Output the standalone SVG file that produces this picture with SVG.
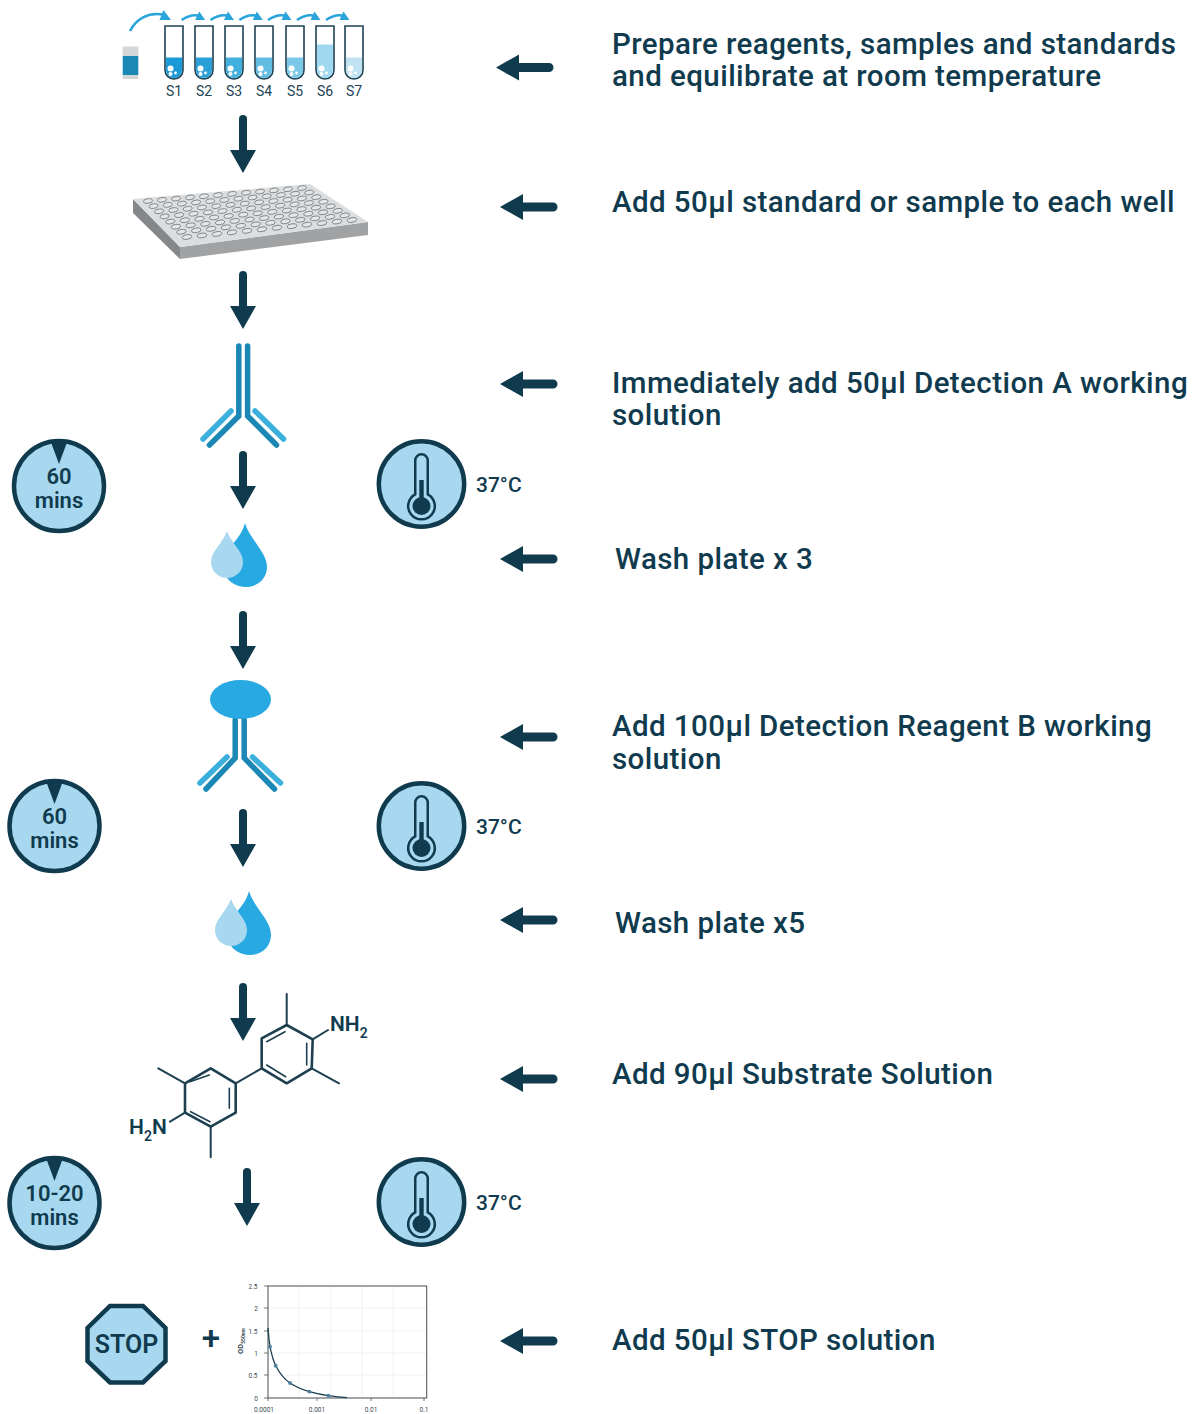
<svg xmlns="http://www.w3.org/2000/svg" width="1200" height="1414" viewBox="0 0 1200 1414">
<style>
text{font-family:Roboto,"Liberation Sans",sans-serif;fill:#103b4e}
.lbl{font-size:29.5px;font-weight:500;letter-spacing:.43px}
.clk{font-size:22px;font-weight:600;text-anchor:middle}
.tmp{font-size:21px;font-weight:500}
.s{font-size:14px;text-anchor:middle;fill:#1d4254}
.chem{font-size:21px;font-weight:600}
.sub{font-size:14px;font-weight:600}
.ax{font-size:6.5px;text-anchor:middle;fill:#3a4a52}
.dark{fill:#103b4e}
.badge{fill:#a8d8ef;stroke:#103b4e;stroke-width:4.5}
.tube{fill:#fff;stroke:#1d4254;stroke-width:1.6}
.bond{stroke:#1d3f50;stroke-width:2.6;fill:none;stroke-linecap:round;stroke-linejoin:round}
.ab1{stroke:#1a87b5;stroke-width:5.5;fill:none;stroke-linecap:round;stroke-linejoin:miter}
.ab2{stroke:#3bb0dc;stroke-width:5.5;fill:none;stroke-linecap:round}
.cv{stroke:#2aa5dc;stroke-width:2.6;fill:none}
.cvh{fill:#2aa5dc}
.w{fill:#e4e5e6;stroke:#5c6468;stroke-width:.7}
.grid{stroke:#e8ecee;stroke-width:.7}
.tick{stroke:#555;stroke-width:.8}
.pt{fill:#4d7fa0}
</style>
<defs>
<path id="down" d="M-4,4 a4,4 0 0 1 8,0 V35 H13 L0,58 L-13,35 H-4 Z"/>
<path id="left" d="M0,0 L23,-13 V-4.5 H53 a4.5,4.5 0 0 1 0,9 H23 V13 Z"/>
<g id="clock">
<circle r="45" class="badge"/>
<path d="M-8.5,-45 H8.5 L0,-22 Z" class="dark"/>
</g>
<g id="thermo">
<circle r="42.7" class="badge"/>
<path d="M-6.25,-23.5 a6.25,6.25 0 0 1 12.5,0 V10.3 a13.3,13.3 0 1 1 -12.5,0 Z" fill="none" stroke="#103b4e" stroke-width="2.5"/>
<rect x="-2.2" y="-4" width="4.4" height="24" class="dark"/>
<circle cy="22" r="9" class="dark"/>
</g>
<g id="bub"><circle cx="-3.5" cy="68.5" r="3" fill="#fff"/><circle cx="-3.5" cy="74" r="2" fill="#fff"/><circle cx="1.5" cy="73" r="1.4" fill="#fff"/></g>
<g id="mini"><path class="cv" d="M0,2 C6,-2 12,-4 18,-2"/><path class="cvh" d="M17.5,-6.5 L23.5,2 L13.5,2 Z"/></g>
<g id="row">
<ellipse class="w" cx="0" cy="0" rx="4.6" ry="2.3"/><ellipse class="w" cx="14.5" cy="0" rx="4.6" ry="2.3"/><ellipse class="w" cx="29" cy="0" rx="4.6" ry="2.3"/><ellipse class="w" cx="43.5" cy="0" rx="4.6" ry="2.3"/><ellipse class="w" cx="58" cy="0" rx="4.6" ry="2.3"/><ellipse class="w" cx="72.5" cy="0" rx="4.6" ry="2.3"/><ellipse class="w" cx="87" cy="0" rx="4.6" ry="2.3"/><ellipse class="w" cx="101.5" cy="0" rx="4.6" ry="2.3"/><ellipse class="w" cx="116" cy="0" rx="4.6" ry="2.3"/><ellipse class="w" cx="130.5" cy="0" rx="4.6" ry="2.3"/><ellipse class="w" cx="145" cy="0" rx="4.6" ry="2.3"/><ellipse class="w" cx="159.5" cy="0" rx="4.6" ry="2.3"/>
</g>
<g id="drops">
<path d="M245,523 C250,540 267,552 267,567 C267,580 256,587 246,587 C235,587 225,580 224,570 L232,545 C238,538 243,531 245,523 Z" fill="#29a9e1"/>
<path d="M227,531 C231,543 243,551 243,562 C243,572 235,578 227,578 C219,578 211,572 211,562 C211,551 223,543 227,531 Z" fill="#a8d8ef"/>
</g>
</defs>

<g id="connectors" class="dark">
<use href="#down" x="243" y="115"/>
<use href="#down" x="243" y="271"/>
<use href="#down" x="243" y="451"/>
<use href="#down" x="243" y="611"/>
<use href="#down" x="243" y="809"/>
<use href="#down" x="243" y="983"/>
<use href="#down" x="247" y="1168"/>
<use href="#left" x="496" y="67.5"/>
<use href="#left" x="500" y="207"/>
<use href="#left" x="500" y="384"/>
<use href="#left" x="500" y="559"/>
<use href="#left" x="500" y="737"/>
<use href="#left" x="500" y="920"/>
<use href="#left" x="500" y="1079"/>
<use href="#left" x="500" y="1341"/>
</g>

<g id="node-dilution">
<rect x="122.7" y="46.5" width="15.6" height="9.5" fill="#d4d6d8"/>
<rect x="122.7" y="56" width="15.6" height="19" fill="#1b87b5"/>
<rect x="122.7" y="75" width="15.6" height="4" fill="#d4d6d8"/>
<path class="cv" d="M130,31 C136,19 148,12 163,14.5"/>
<path class="cvh" d="M163.5,10 L171,20 L159.5,20 Z"/>
<use href="#mini" x="181.7" y="18"/><use href="#mini" x="210.5" y="18"/><use href="#mini" x="239.3" y="18"/><use href="#mini" x="268" y="18"/><use href="#mini" x="297" y="18"/><use href="#mini" x="326" y="18"/>
<g transform="translate(174,0)"><path class="tube" d="M-9,26 V70 a9,9 0 0 0 18,0 V26 Z"/><path fill="#1a9ad6" d="M-8,57.5 H8 V70 a8,8 0 0 1 -16,0 Z"/><use href="#bub"/></g>
<g transform="translate(204,0)"><path class="tube" d="M-9,26 V70 a9,9 0 0 0 18,0 V26 Z"/><path fill="#2aa0d8" d="M-8,57.5 H8 V70 a8,8 0 0 1 -16,0 Z"/><use href="#bub"/></g>
<g transform="translate(234,0)"><path class="tube" d="M-9,26 V70 a9,9 0 0 0 18,0 V26 Z"/><path fill="#41b0de" d="M-8,57.5 H8 V70 a8,8 0 0 1 -16,0 Z"/><use href="#bub"/></g>
<g transform="translate(264,0)"><path class="tube" d="M-9,26 V70 a9,9 0 0 0 18,0 V26 Z"/><path fill="#62bde3" d="M-8,57.5 H8 V70 a8,8 0 0 1 -16,0 Z"/><use href="#bub"/></g>
<g transform="translate(295,0)"><path class="tube" d="M-9,26 V70 a9,9 0 0 0 18,0 V26 Z"/><path fill="#7cc8e8" d="M-8,57.5 H8 V70 a8,8 0 0 1 -16,0 Z"/><use href="#bub"/></g>
<g transform="translate(325,0)"><path class="tube" d="M-9,26 V70 a9,9 0 0 0 18,0 V26 Z"/><path fill="#a0d8ef" d="M-8,44.5 H8 V70 a8,8 0 0 1 -16,0 Z"/><use href="#bub"/></g>
<g transform="translate(354,0)"><path class="tube" d="M-9,26 V70 a9,9 0 0 0 18,0 V26 Z"/><path fill="#bfe3f2" d="M-8,57.5 H8 V70 a8,8 0 0 1 -16,0 Z"/><use href="#bub"/></g>
<text class="s" x="174" y="96">S1</text><text class="s" x="204" y="96">S2</text><text class="s" x="234" y="96">S3</text><text class="s" x="264" y="96">S4</text><text class="s" x="295" y="96">S5</text><text class="s" x="325" y="96">S6</text><text class="s" x="354" y="96">S7</text>
</g>

<g id="node-plate">
<path d="M133,199 L180,247 V259 L133,213 Z" fill="#85878a"/>
<path d="M180,247 L368,222 V235 L180,259 Z" fill="#a0a2a4"/>
<path d="M133,199 L310,184 L368,222 L180,247 Z" fill="#dcddde"/>
<use href="#row" transform="matrix(.9655 -.0815 0 1 148 201)"/>
<use href="#row" transform="matrix(.9754 -.0851 0 1 153.6 206.1)"/>
<use href="#row" transform="matrix(.9852 -.0887 0 1 159.1 211.3)"/>
<use href="#row" transform="matrix(.995 -.0922 0 1 164.7 216.4)"/>
<use href="#row" transform="matrix(1.0049 -.0958 0 1 170.3 221.6)"/>
<use href="#row" transform="matrix(1.0147 -.0994 0 1 175.9 226.7)"/>
<use href="#row" transform="matrix(1.0246 -.1029 0 1 181.4 231.8)"/>
<use href="#row" transform="matrix(1.0345 -.1066 0 1 187 237)"/>
</g>

<g id="node-antibody-a">
<path class="ab1" d="M238.8,346 V416 L209.5,445"/>
<path class="ab1" d="M247.6,346 V416 L276.5,445"/>
<path class="ab2" d="M231,411 L203,439"/>
<path class="ab2" d="M255,411 L283.5,439"/>
</g>

<g id="node-timer-1"><use href="#clock" x="59" y="486"/><text class="clk" x="59" y="484">60</text><text class="clk" x="59" y="508">mins</text></g>
<g id="node-temp-1"><use href="#thermo" x="421.5" y="484"/><text class="tmp" x="476" y="492">37°C</text></g>
<g id="node-wash-1"><use href="#drops"/></g>

<g id="node-antibody-b">
<path class="ab1" d="M235.2,720 V758 L206,789"/>
<path class="ab1" d="M244.2,720 V758 L274.5,789"/>
<path class="ab2" d="M227,757 L200,783"/>
<path class="ab2" d="M252.5,757 L280.5,783"/>
<ellipse cx="240.5" cy="699.5" rx="30.5" ry="19.5" fill="#29a9e1"/>
</g>

<g id="node-timer-2"><use href="#clock" x="54.5" y="826"/><text class="clk" x="54.5" y="824">60</text><text class="clk" x="54.5" y="848">mins</text></g>
<g id="node-temp-2"><use href="#thermo" x="421.5" y="826"/><text class="tmp" x="476" y="834">37°C</text></g>
<g id="node-wash-2"><use href="#drops" x="4" y="368"/></g>

<g id="node-tmb">
<path class="bond" d="M261.7,1038.3 L286.7,1025 L312.7,1039.3 L311.7,1068.3 L286.7,1083.3 L261.7,1068.3 Z"/>
<path class="bond" d="M185,1083.3 L210.7,1068.3 L235.7,1083.3 L235.7,1112.7 L210.7,1126.7 L185,1112.7 Z"/>
<path class="bond" style="stroke-width:1.6" d="M266.7,1041.7 L285,1031.7 M306.7,1043.3 V1065 M266.7,1065 L285.7,1076.7 M190,1081.7 L209.3,1075 M229.3,1088.3 V1108.3 M190.7,1111.7 L210,1121.7"/>
<path class="bond" style="stroke-width:2" d="M235.7,1083.3 L261.7,1068.3 M286.7,1025 V994 M311.7,1068.3 L339,1083.3 M185,1083.3 L158.3,1068.3 M210.7,1126.7 V1157.3 M312.7,1039.3 L328,1030 M185,1112.7 L170,1121.7"/>
<text class="chem" x="330" y="1031">NH<tspan class="sub" dy="7">2</tspan></text>
<text class="chem" x="129" y="1134">H<tspan class="sub" dy="7">2</tspan><tspan dy="-7">N</tspan></text>
</g>

<g id="node-timer-3"><use href="#clock" x="54.5" y="1203"/><text class="clk" x="54.5" y="1201">10-20</text><text class="clk" x="54.5" y="1225">mins</text></g>
<g id="node-temp-3"><use href="#thermo" x="421.5" y="1202"/><text class="tmp" x="476" y="1210">37°C</text></g>

<g id="node-stop">
<path class="badge" d="M110,1306 H143 L165.5,1328 V1361 L143,1382.5 H110 L87.5,1361 V1328 Z"/>
<text x="126.5" y="1353" font-size="25" font-weight="600" text-anchor="middle">STOP</text>
<text x="211" y="1350" font-size="33" font-weight="500" text-anchor="middle">+</text>
</g>

<g id="node-chart">
<path class="grid" d="M299,1286 V1398 M331,1286 V1398 M362,1286 V1398 M393,1286 V1398 M268,1308 H427 M268,1331 H427 M268,1353 H427 M268,1375 H427"/>
<rect x="268" y="1286" width="158.7" height="112" fill="none" stroke="#555c60" stroke-width="1.1"/>
<path class="tick" d="M264,1286 H268 M264,1308 H268 M264,1331 H268 M264,1353 H268 M264,1375 H268 M264,1398 H268 M268,1398 V1401 M317,1398 V1401 M371,1398 V1401 M424,1398 V1401"/>
<path d="M268,1328 C269,1345 272,1358 275.7,1365.7 C279,1372 284,1379 290,1383 C296,1387 302,1389.5 309.3,1391.7 C316,1393.6 322,1394.8 328.3,1395.7 C334,1396.6 340,1397.4 347,1397.7" fill="none" stroke="#1d3f50" stroke-width="1.3"/>
<circle class="pt" cx="270" cy="1346.7" r="1.9"/><circle class="pt" cx="275.7" cy="1365.7" r="1.9"/><circle class="pt" cx="290" cy="1383" r="1.9"/><circle class="pt" cx="309.3" cy="1391.7" r="1.9"/><circle class="pt" cx="328.3" cy="1395.7" r="1.9"/>
<text class="ax" x="253" y="1288.5">2.5</text><text class="ax" x="256" y="1310.5">2</text><text class="ax" x="253" y="1333.5">1.5</text><text class="ax" x="256" y="1355.5">1</text><text class="ax" x="253" y="1377.5">0.5</text><text class="ax" x="256" y="1400.5">0</text>
<text class="ax" x="264" y="1412">0.0001</text><text class="ax" x="317" y="1412">0.001</text><text class="ax" x="371" y="1412">0.01</text><text class="ax" x="424" y="1412">0.1</text>
<text class="ax" transform="translate(243,1341) rotate(-90)" style="font-size:7.5px;font-weight:700">OD<tspan style="font-size:5px" dy="1.5">550nm</tspan></text>
</g>

<g id="labels">
<text class="lbl" x="612" y="54">Prepare reagents, samples and standards</text>
<text class="lbl" x="612" y="86">and equilibrate at room temperature</text>
<text class="lbl" x="612" y="212">Add 50µl standard or sample to each well</text>
<text class="lbl" x="612" y="393">Immediately add 50µl Detection A working</text>
<text class="lbl" x="612" y="425">solution</text>
<text class="lbl" x="615" y="569">Wash plate x 3</text>
<text class="lbl" x="612" y="736">Add 100µl Detection Reagent B working</text>
<text class="lbl" x="612" y="769">solution</text>
<text class="lbl" x="615" y="933">Wash plate x5</text>
<text class="lbl" x="612" y="1084">Add 90µl Substrate Solution</text>
<text class="lbl" x="612" y="1350">Add 50µl STOP solution</text>
</g>
</svg>
